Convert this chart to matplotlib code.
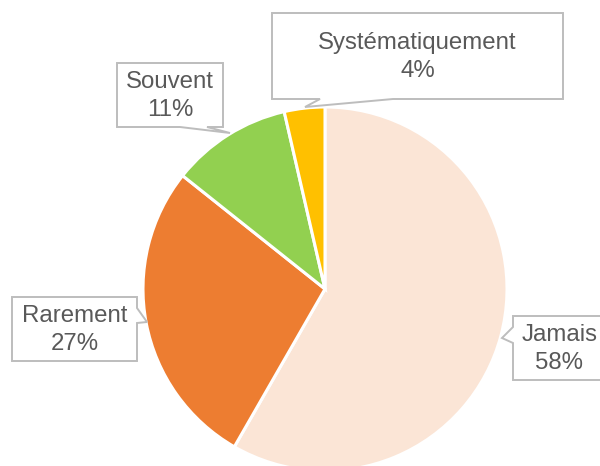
import matplotlib
matplotlib.use("Agg")
import matplotlib.pyplot as plt
from matplotlib.patches import Polygon

categories = ["Jamais", "Rarement", "Souvent", "Systématiquement"]
values = [58.3, 27.4, 10.7, 3.6]
colors = ["#FBE5D6", "#ED7D31", "#92D050", "#FFC000"]

W, H = 600, 466
fig = plt.figure(figsize=(W / 100, H / 100), dpi=100)
ax = fig.add_axes([0, 0, 1, 1])

def py(y):
    return H - y

cx, cy, r = 325, 289, 182
ax.pie(values, colors=colors, startangle=90, counterclock=False,
       center=(cx, py(cy)), radius=r, frame=True,
       wedgeprops=dict(edgecolor="white", linewidth=2.2))
ax.set_xlim(0, W)
ax.set_ylim(0, H)
ax.set_aspect("equal")
ax.axis("off")

# callout layout (pixels): box (x0, y0, x1, y1), side, base points, tip
callouts = {
    "Systématiquement": ((272, 13, 563, 99), "bottom", (320, 393), (305, 107)),
    "Souvent": ((117, 63, 223, 127), "bottom", (180, 207), (230, 133)),
    "Rarement": ((12, 297, 137, 361), "right", (308, 323), (147, 322)),
    "Jamais": ((513, 316, 606, 380), "left", (327, 343), (502, 338)),
}

total = sum(values)
for cat, val in zip(categories, values):
    (x0, y0, x1, y1), side, base, tip = callouts[cat]
    if side == "bottom":
        pts = [(x0, y0), (x1, y0), (x1, y1), (base[1], y1), tip, (base[0], y1), (x0, y1)]
    elif side == "right":
        pts = [(x0, y0), (x1, y0), (x1, base[0]), tip, (x1, base[1]), (x1, y1), (x0, y1)]
    else:
        pts = [(x0, y0), (x1, y0), (x1, y1), (x0, y1), (x0, base[1]), tip, (x0, base[0])]
    poly = Polygon([(x, py(y)) for x, y in pts], closed=True, facecolor="white",
                   edgecolor="#BDBDBD", linewidth=1.4, zorder=5, clip_on=False)
    ax.add_patch(poly)
    pct = round(val / total * 100)
    ax.text((x0 + x1) / 2, py((y0 + y1) / 2 + 1), f"{cat}\n{pct}%", ha="center", va="center",
            multialignment="center", fontsize=17.3, color="#595959",
            family=["Liberation Sans", "DejaVu Sans"], linespacing=1.4, zorder=6)

fig.savefig("out.png", dpi=100)
